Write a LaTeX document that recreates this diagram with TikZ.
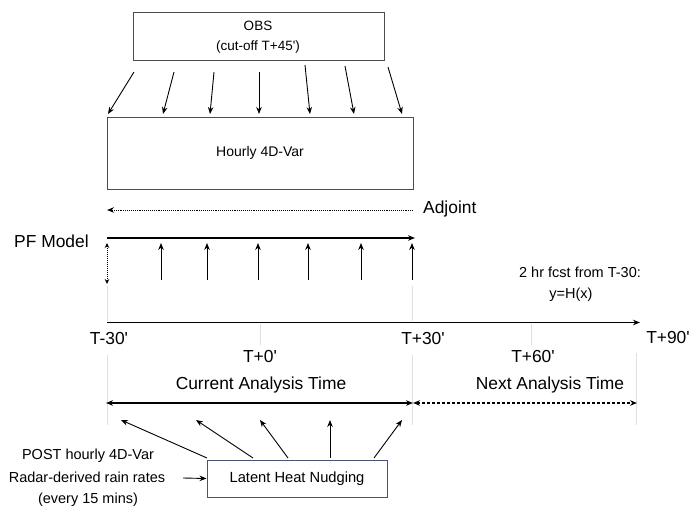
\documentclass[tikz,border=0pt]{standalone}
\usepackage{fontspec}
\setmainfont{Liberation Sans}[Ligatures=TeXOff]
\usetikzlibrary{arrows.meta}
\definecolor{lhnedge}{RGB}{70,85,115}
\begin{document}
\begin{tikzpicture}[x=1pt,y=-1pt,
  tip/.tip={Stealth[length=7pt,width=5.5pt]},
  arr/.style={-tip,line width=0.9pt},
  dbl/.style={tip-tip,line width=1.1pt},
  box/.style={draw=black!70,line width=0.8pt,inner sep=0pt},
  guide/.style={draw=black!12,line width=0.8pt},
  lbl/.style={font=\fontsize{17.4}{20}\selectfont,inner sep=0pt},
  small/.style={font=\fontsize{14.5}{17}\selectfont,inner sep=0pt}]
\useasboundingbox (0,0) rectangle (689,507);
% boxes
\node[box,minimum width=251pt,minimum height=48pt] (obs) at (258.5,36) {};
\node[font=\fontsize{13.5}{15}\selectfont,inner sep=0pt] (obs1) at (258,26) {OBS};
\node[font=\fontsize{13.5}{15}\selectfont,inner sep=0pt] (obs2) at (258,47) {(cut-off T+45')};
\node[box,minimum width=306pt,minimum height=72pt,font=\fontsize{14}{16}\selectfont] (var) at (260,153) {Hourly 4D-Var};
\node[box,draw=lhnedge,line width=1pt,minimum width=180pt,minimum height=37pt,font=\fontsize{14.7}{17}\selectfont] (lhn) at (297,478.5) {Latent Heat Nudging};
% OBS arrows
\foreach \i/\sx/\sy/\ex in {1/134/72/108,2/174/72/163,3/214/72/210,4/259/72/259,5/305/65/310,6/345/66/354,7/388/67/402}{
  \coordinate (os\i) at (\sx,\sy);
  \coordinate (oe\i) at (\ex,114);
  \draw[arr] (os\i) -- (oe\i);
}
% adjoint
\coordinate (adjR) at (413,210);
\coordinate (adjL) at (107,210);
\draw[arr,densely dotted,line width=1pt] (adjR) -- (adjL);
\node[lbl,anchor=west] (adj) at (423,209) {Adjoint};
% PF model
\node[lbl,anchor=west] (pf) at (14,241) {PF Model};
\coordinate (pfL) at (107,238);
\coordinate (pfR) at (415,238);
\draw[arr,line width=1.5pt] (pfL) -- (pfR);
\foreach \i/\x in {1/161,2/207,3/258,4/308,5/361,6/412}{
  \coordinate (ub\i) at (\x,280);
  \coordinate (ut\i) at (\x,243);
  \draw[arr,line width=0.9pt] (ub\i) -- (ut\i);
}
\coordinate (dA) at (107,243);
\coordinate (dB) at (107,284);
\draw[{Stealth[length=5pt,width=4.5pt]}-{Stealth[length=5pt,width=4.5pt]},densely dotted,line width=1pt] (dA) -- (dB);
% guides
\draw[guide] (107,286) -- (107,321);
\draw[guide] (412,286) -- (412,321);
\draw[guide] (260,324) -- (260,345);
\draw[guide] (531,324) -- (531,345);
\draw[guide] (107,355) -- (107,425);
\draw[guide] (412,355) -- (412,425);
\draw[guide] (636,353) -- (636,425);
% time axis
\coordinate (axL) at (107,322.5);
\coordinate (axR) at (640,322.5);
\draw[arr,line width=1.5pt] (axL) -- (axR);
\node[lbl] (tm30) at (109,339) {T-30'};
\node[lbl] (t0) at (260,357) {T+0'};
\node[lbl] (t30) at (423,339) {T+30'};
\node[lbl] (t60) at (533,357) {T+60'};
\node[lbl] (t90) at (668,338) {T+90'};
\node[small,font=\fontsize{14.5}{16}\selectfont] (fc1) at (580,272) {2 hr fcst from T-30:};
\node[small,font=\fontsize{14.5}{16}\selectfont] (fc2) at (571,295) {y=H(x)};
% analysis times
\node[lbl] (cur) at (261,385) {Current Analysis Time};
\node[lbl] (nxt) at (550,385) {Next Analysis Time};
\coordinate (cL) at (106,403);
\coordinate (cR) at (413,403);
\coordinate (nL) at (413,403);
\coordinate (nR) at (637,403);
\draw[dbl] (cL) -- (cR);
\draw[dbl,densely dashed] (nL) -- (nR);
% LHN arrows
\foreach \i/\sx/\ex in {1/207/121,2/253/196,3/288/260,4/330/330,5/374/402}{
  \coordinate (ls\i) at (\sx,458);
  \coordinate (le\i) at (\ex,420);
  \draw[arr] (ls\i) -- (le\i);
}
% left text
\node[small] (post) at (88,456) {POST hourly 4D-Var};
\node[small] (radar) at (87,477) {Radar-derived rain rates};
\node[small] (every) at (88,500) {(every 15 mins)};
\coordinate (rA) at (183,478);
\draw[arr] (rA) -- (lhn.west);
\end{tikzpicture}
\end{document}
